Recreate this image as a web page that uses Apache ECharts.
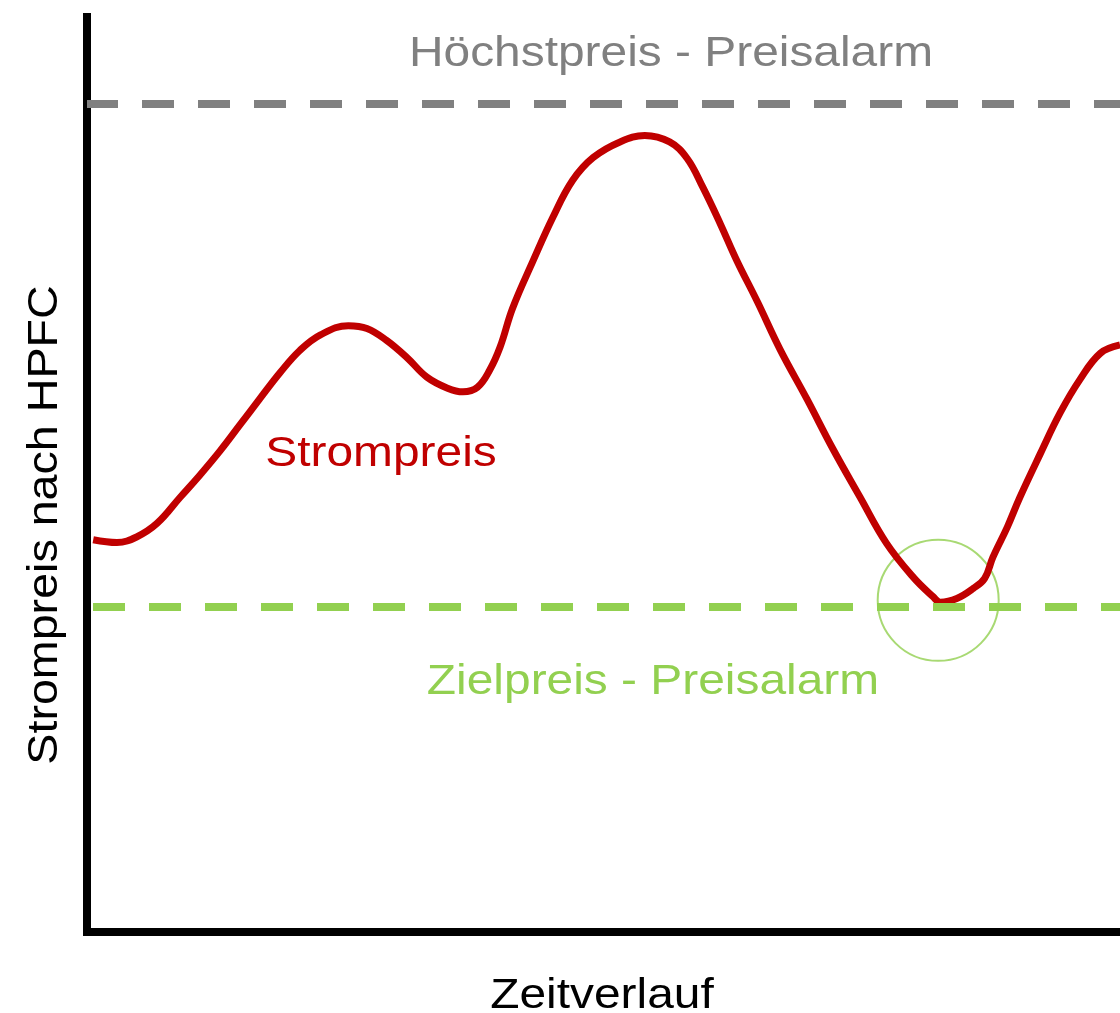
<!DOCTYPE html>
<html>
<head>
<meta charset="utf-8">
<script src="https://cdn.jsdelivr.net/npm/echarts@6/dist/echarts.min.js"></script>
<style>
  html, body { margin: 0; padding: 0; background: #fff; }
  #chart-container { width: 1120px; height: 1013px; }
</style>
</head>
<body>
<div id="chart-container"></div>
<script>
// Zeitverlauf (0..100) und Strompreis (0..100, willkürliche Einheiten)
const zeit = [0.6, 2.9, 4.8, 6.8, 9.0, 10.9, 12.9, 14.8, 16.7, 18.7, 20.6, 22.6, 25.3, 27.1, 29.0,
  31.0, 32.9, 34.9, 36.4, 37.8, 39.0, 40.0, 41.2, 43.2, 45.1, 47.0, 49.0, 51.6, 54.0, 56.4,
  58.1, 59.6, 61.3, 62.9, 64.9, 67.1, 69.7, 72.2, 74.8, 77.4, 80.0, 81.9, 82.6, 84.2, 85.8,
  86.9, 87.7, 89.1, 90.3, 92.3, 94.2, 96.1, 98.1, 100];
const strompreis = [42.7, 42.4, 43.0, 44.5, 47.3, 49.7, 52.4, 55.2, 58.0, 60.9, 63.3, 65.0, 66.0, 65.7, 64.4,
  62.5, 60.4, 59.2, 58.8, 59.3, 61.2, 63.7, 67.9, 73.1, 77.8, 81.8, 84.3, 86.0, 86.7, 86.0,
  84.2, 81.1, 77.1, 73.1, 68.6, 63.4, 58.0, 52.6, 47.4, 42.3, 38.6, 36.5, 35.9, 36.3, 37.4,
  38.5, 40.8, 44.1, 47.3, 52.1, 56.5, 60.1, 63.0, 63.9];
const hoechstpreis = 90.2;
const zielpreis = 35.4;
const treffer = [82.4, 36.1];

const labels = {
  hoechst: 'Höchstpreis - Preisalarm',
  ziel: 'Zielpreis - Preisalarm',
  strom: 'Strompreis',
  xName: 'Zeitverlauf',
  yName: 'Strompreis nach HPFC'
};

const font = '"Liberation Sans", Arial, sans-serif';
const grey = '#808080';
const green = '#92d050';
const red = '#c00000';

const dom = document.getElementById('chart-container');
const myChart = echarts.init(dom, null, { renderer: 'canvas' });

const textEl = (text, x, y, color, extra) => Object.assign({
  type: 'text',
  x,
  y,
  scaleX: 1.14,
  z: 100,
  style: {
    text,
    fill: color,
    font: `42px ${font}`,
    align: 'center',
    verticalAlign: 'middle'
  }
}, extra || {});

const option = {
  animation: false,
  grid: { left: 87, right: 0, top: 17, bottom: 81 },
  xAxis: {
    type: 'value',
    min: 0,
    max: 100,
    axisLine: { show: true, lineStyle: { color: '#000', width: 8, cap: 'square' } },
    axisTick: { show: false },
    axisLabel: { show: false },
    splitLine: { show: false }
  },
  yAxis: {
    type: 'value',
    min: 0,
    max: 99.6,
    axisLine: { show: true, lineStyle: { color: '#000', width: 8, cap: 'square' } },
    axisTick: { show: false },
    axisLabel: { show: false },
    splitLine: { show: false }
  },
  series: [
    {
      type: 'scatter',
      data: [treffer],
      symbol: 'circle',
      symbolSize: 121,
      itemStyle: { color: 'rgba(0,0,0,0)', borderColor: green, borderWidth: 2 },
      silent: true,
      z: 1
    },
    {
      type: 'line',
      data: zeit.map((x, i) => [x, strompreis[i]]),
      smooth: 0.4,
      showSymbol: false,
      lineStyle: { color: red, width: 7 },
      z: 3,
      markLine: {
        silent: true,
        symbol: 'none',
        label: { show: false },
        data: [
          { yAxis: hoechstpreis, lineStyle: { color: grey, width: 8, type: [32, 24], dashOffset: 1 } },
          { yAxis: zielpreis, lineStyle: { color: green, width: 8, type: [32, 24], dashOffset: 50 } }
        ]
      }
    }
  ],
  graphic: [
    textEl(labels.hoechst, 671, 54, grey),
    textEl(labels.ziel, 653, 682, green),
    textEl(labels.strom, 381, 454, red),
    textEl(labels.xName, 602, 996, '#000'),
    textEl(labels.yName, 45, 525, '#000', { rotation: Math.PI / 2, scaleX: 1.11 })
  ]
};

myChart.setOption(option);
window.addEventListener('resize', myChart.resize);
</script>
</body>
</html>
